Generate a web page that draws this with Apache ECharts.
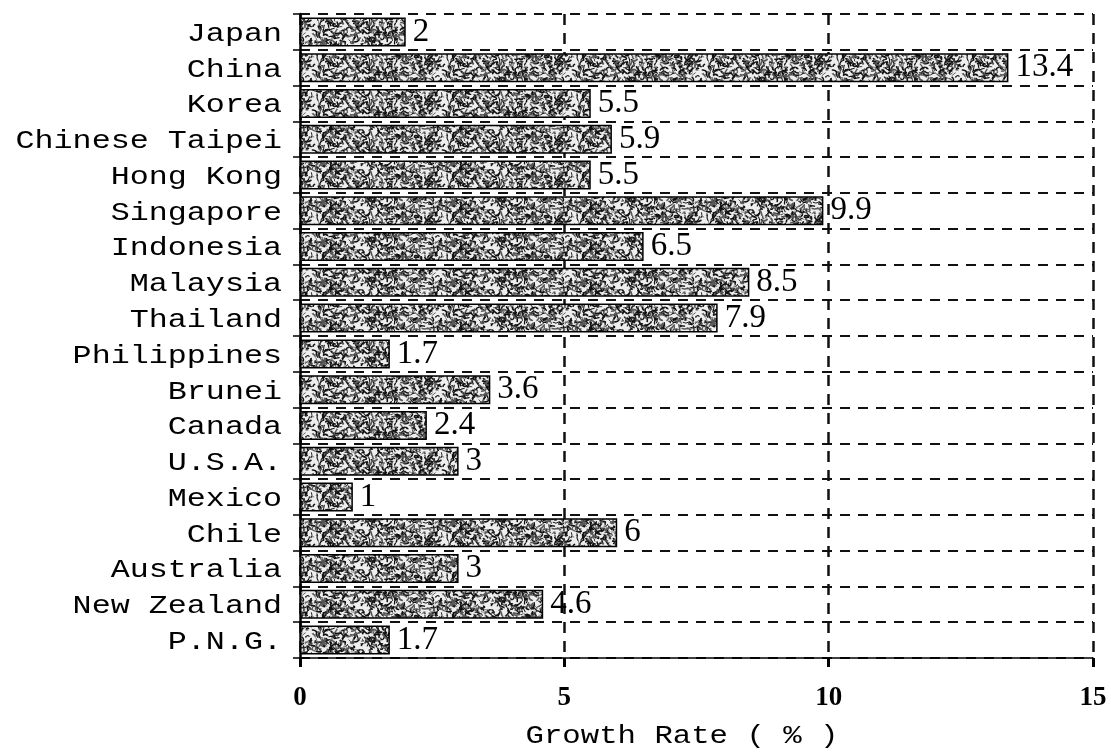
<!DOCTYPE html>
<html>
<head>
<meta charset="utf-8">
<script src="https://cdn.jsdelivr.net/npm/echarts@6/dist/echarts.min.js"></script>
<style>
  html, body { margin: 0; padding: 0; background: #fff; }
  #chart { width: 1111px; height: 755px; }
</style>
</head>
<body>
<div id="chart"></div>
<script>
// Economies, top to bottom
const categories = [
  'Japan', 'China', 'Korea', 'Chinese Taipei', 'Hong Kong', 'Singapore',
  'Indonesia', 'Malaysia', 'Thailand', 'Philippines', 'Brunei', 'Canada',
  'U.S.A.', 'Mexico', 'Chile', 'Australia', 'New Zealand', 'P.N.G.'
];
// Growth rate (%) for each economy
const growthRates = [
  2, 13.4, 5.5, 5.9, 5.5, 9.9,
  6.5, 8.5, 7.9, 1.7, 3.6, 2.4,
  3, 1, 6, 3, 4.6, 1.7
];
// Value axis ticks
const axisMin = 0;
const axisMax = 15;
const axisStep = 5;
const axisTitle = 'Growth Rate ( % )';

// Stippled fill used inside every bar (deterministic hash, tiled seamlessly)
function makeStipple() {
  const W = 130, H = 40;
  const c = document.createElement('canvas');
  c.width = W; c.height = H;
  const g = c.getContext('2d');
  g.fillStyle = '#eeeeee';
  g.fillRect(0, 0, W, H);
  const h = n => { const s = Math.sin(n * 127.1 + 311.7) * 43758.5453; return s - Math.floor(s); };
  g.lineCap = 'round';
  g.lineJoin = 'round';
  for (let i = 0; i < 620; i++) {
    const x = h(i) * W, y = h(i + 5000) * H;
    const a = h(i + 10000) * Math.PI * 2;
    const len = 1.5 + h(i + 15000) * 4.5;
    const bend = (h(i + 25000) - 0.5) * 4;
    g.lineWidth = 0.7 + h(i + 20000) * 1.1;
    g.strokeStyle = h(i + 30000) > 0.35 ? '#111111' : '#5a5a5a';
    for (const ox of [-W, 0, W]) {
      for (const oy of [-H, 0, H]) {
        const x0 = x + ox, y0 = y + oy;
        const x1 = x0 + Math.cos(a) * len, y1 = y0 + Math.sin(a) * len;
        const mx = (x0 + x1) / 2 - Math.sin(a) * bend, my = (y0 + y1) / 2 + Math.cos(a) * bend;
        g.beginPath();
        g.moveTo(x0, y0);
        g.quadraticCurveTo(mx, my, x1, y1);
        g.stroke();
      }
    }
  }
  return c;
}

const chart = echarts.init(document.getElementById('chart'), null, { renderer: 'canvas' });

const monoFont = '"Liberation Mono", "DejaVu Sans Mono", monospace';
const serifFont = '"Liberation Serif", "DejaVu Serif", serif';

chart.setOption({
  backgroundColor: '#ffffff',
  animation: false,
  grid: { left: 300, right: 18, top: 14, bottom: 97, containLabel: false },
  xAxis: {
    type: 'value',
    min: axisMin,
    max: axisMax,
    interval: axisStep,
    axisLine: { show: true, lineStyle: { color: '#000', width: 1.5 } },
    axisTick: { show: true, length: 9, lineStyle: { color: '#000', width: 3 } },
    axisLabel: {
      margin: 27,
      color: '#000',
      fontFamily: serifFont,
      fontWeight: 'bold',
      fontSize: 27
    },
    splitLine: {
      show: true,
      lineStyle: { color: '#111', width: 2.5, type: [11, 8] }
    }
  },
  yAxis: {
    type: 'category',
    data: categories,
    inverse: true,
    axisLine: { show: true, lineStyle: { color: '#000', width: 2.5 } },
    axisTick: { show: true, length: 7, lineStyle: { color: '#000', width: 1.5 } },
    axisLabel: { show: false },
    splitLine: {
      show: true,
      lineStyle: { color: '#111', width: 2, type: [10, 8] }
    }
  },
  graphic: [{
    type: 'text',
    x: 682,
    y: 736,
    scaleX: 1.18,
    silent: true,
    style: {
      text: axisTitle,
      font: '26px ' + monoFont,
      fill: '#000',
      align: 'center',
      verticalAlign: 'middle'
    }
  }],
  series: [
    {
      type: 'bar',
      data: growthRates,
      barWidth: 29,
      itemStyle: {
        color: { image: makeStipple(), repeat: 'repeat' },
        borderColor: '#000',
        borderWidth: 1.5
      },
      label: {
        show: true,
        position: 'right',
        distance: 7,
        color: '#000',
        fontFamily: serifFont,
        fontSize: 33,
        formatter: p => String(p.value)
      },
      z: 3
    },
    {
      // Economy names, stretched to the wide typewriter look
      type: 'custom',
      silent: true,
      clip: false,
      data: categories.map((c, i) => [0, i]),
      encode: { x: 0, y: 1 },
      renderItem: (params, api) => {
        const p = api.coord([api.value(0), api.value(1)]);
        return {
          type: 'text',
          x: p[0] - 18,
          y: p[1] + 2,
          scaleX: 1.22,
          style: {
            text: categories[params.dataIndex],
            font: '26px ' + monoFont,
            fill: '#000',
            align: 'right',
            verticalAlign: 'middle'
          }
        };
      },
      z: 4
    }
  ]
});
</script>
</body>
</html>
